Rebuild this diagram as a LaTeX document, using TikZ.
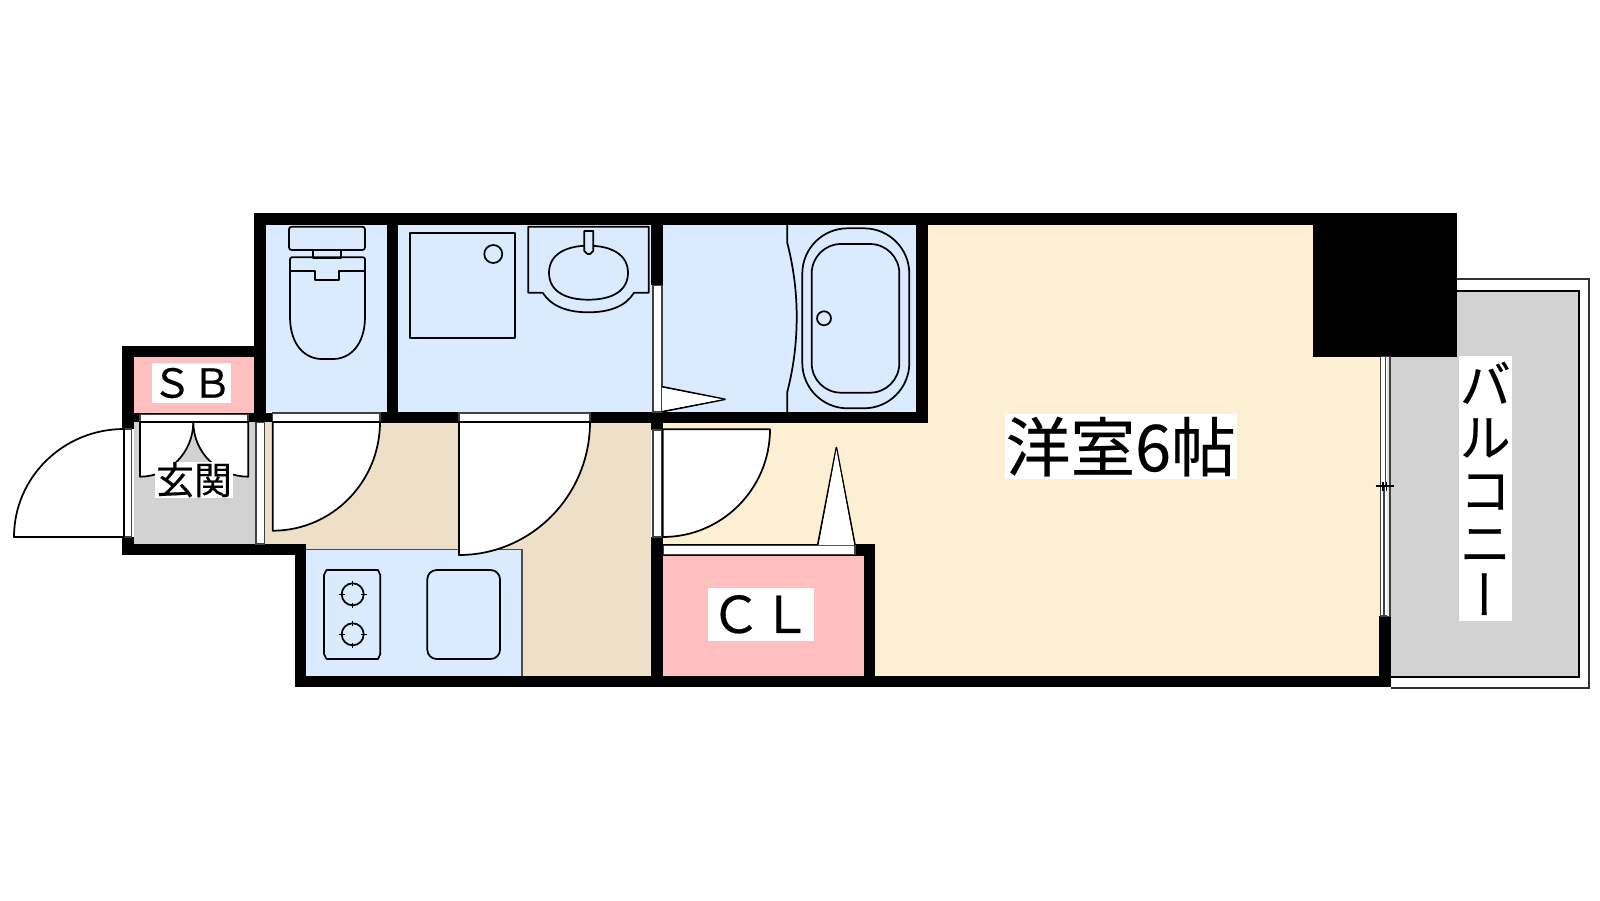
\documentclass[tikz,border=0pt]{standalone}
\usepackage{fontspec}
\setmainfont{Noto Sans CJK JP}[FakeBold=0.35,AutoFakeBold=0.35]
\newfontfamily\vertfont[RawFeature={+vert}]{Noto Sans CJK JP}
\definecolor{wetblue}{HTML}{DAEBFF}
\definecolor{storepink}{HTML}{FFBFBF}
\definecolor{hallbeige}{HTML}{EEDFC8}
\definecolor{roomcream}{HTML}{FDF0D2}
\definecolor{floorgray}{HTML}{D2D2D2}
\tikzset{
  wall/.style={fill=black,draw=none},
  fixture/.style={draw=black,line width=1.3pt,line join=round},
  doorleaf/.style={draw=black,fill=white,line width=1.3pt,line join=round},
  sash/.style={draw=black!75,fill=white,line width=1pt},
  thinframe/.style={draw=black!80,line width=1.3pt},
  tag/.style={fill=white,inner sep=0pt,align=center,text=black},
}
\begin{document}
\begin{tikzpicture}[x=0.75pt,y=-0.75pt]
\useasboundingbox (0,0) rectangle (1600,900);
% floors
\fill[roomcream] (663,423) rectangle (1380,676);
\fill[roomcream] (928,225) rectangle (1380,430);
\fill[hallbeige] (264,422) rectangle (651,549);
\fill[hallbeige] (522,540) rectangle (651,676);
\fill[floorgray] (134,412) rectangle (254,544);
\fill[floorgray] (254,422) rectangle (264,544);
\fill[storepink] (134,357) rectangle (254,413);
\fill[storepink] (663,555) rectangle (864,676);
\fill[wetblue] (266,225) rectangle (387,412);
\fill[wetblue] (398,225) rectangle (652,412);
\fill[wetblue] (663,225) rectangle (916,412);
\fill[wetblue] (306,549) rectangle (522,676);
\draw[draw=black!70,line width=1pt] (306,549.3) -- (522,549.3) -- (522,676);
% balcony
\draw[thinframe] (1457,279.3) -- (1589,279.3) -- (1589,687.7) -- (1391,687.7);
\fill[floorgray] (1391,290.7) rectangle (1579,676.7);
\draw[draw=black,line width=1.3pt] (1457,290.7) -- (1579,290.7) -- (1579,676.7) -- (1391,676.7);
% walls
\fill[wall] (254,213) rectangle (1457,225);
\fill[wall] (254,213) rectangle (266,422);
\fill[wall] (387,225) rectangle (398,412);
\fill[wall] (651,225) rectangle (663,285);
\fill[wall] (916,225) rectangle (928,423);
\fill[wall] (1313,213) rectangle (1457,356.7);
\fill[wall] (122,346) rectangle (266,357);
\fill[wall] (122,346) rectangle (134,429);
\fill[wall] (122,412.5) rectangle (272.7,422);
\fill[wall] (122,537) rectangle (134,555);
\fill[wall] (122,544) rectangle (306,555);
\fill[wall] (294.5,544) rectangle (306,687);
\fill[wall] (294.5,676) rectangle (1391,687);
\fill[wall] (380,412) rectangle (459,423);
\fill[wall] (590,412) rectangle (928,423);
\fill[wall] (651,412) rectangle (663,430);
\fill[wall] (651,537) rectangle (663,687);
\fill[wall] (663,544) rectangle (875,555.7);
\fill[wall] (864,544) rectangle (875,687);
\fill[wall] (1379,616) rectangle (1391,687);
% sliding and door strips
\draw[sash] (140,414.3) rectangle (248,421.7);
\draw[sash] (272.7,413) rectangle (380,421.7);
\draw[sash] (459,413) rectangle (590,421.7);
\draw[sash] (663.5,545.5) rectangle (855,554.5);
\draw[sash] (124,429) rectangle (131.7,537);
\draw[sash] (256,422.5) rectangle (264.3,544);
\draw[sash] (653,285.5) rectangle (662,412);
\draw[sash] (653,430) rectangle (662,537);
% balcony window
\draw[sash] (1380.3,356.7) rectangle (1390,616);
\draw[draw=black!75,line width=1pt] (1385.8,356.7) -- (1385.8,486);
\draw[draw=black!75,line width=1pt] (1384,486) -- (1384,616);
\fill[floorgray!60] (1386.5,357) rectangle (1389.3,616);
\draw[draw=black,line width=0.9pt] (1375.7,486) -- (1394.3,486);
\draw[draw=black,line width=0.9pt] (1383,482) -- (1383,491);
\draw[draw=black,line width=0.9pt] (1386.5,482) -- (1386.5,491);
% doors
\draw[doorleaf] (14,537) -- (124,537) -- (124,429) arc[start angle=90,end angle=180,x radius=110,y radius=-108] -- cycle;
\draw[doorleaf] (140,422) -- (140,476.7) arc[start angle=-90,end angle=0,x radius=53.3,y radius=-54.7] -- cycle;
\draw[doorleaf] (248.3,422) -- (248.3,476.7) arc[start angle=-90,end angle=-180,x radius=55,y radius=-54.7] -- cycle;
\draw[doorleaf] (272.7,422) -- (272.7,530.7) arc[start angle=-90,end angle=0,x radius=107.3,y radius=-108.7] -- cycle;
\draw[doorleaf] (459,422) -- (459,555) arc[start angle=-90,end angle=0,x radius=131,y radius=-133] -- cycle;
\draw[doorleaf] (662.7,429.3) -- (662.7,537) arc[start angle=-90,end angle=0,x radius=107.3,y radius=-107.7] -- cycle;
\draw[doorleaf] (817.7,545) -- (836.4,447.7) -- (855,545);
\fill[white] (819,544.5) -- (836.4,450) -- (854,544.5) -- cycle;
\draw[doorleaf] (662,386.7) -- (725,399.3) -- (662,411.7);
\fill[white] (662.5,388) -- (722,399.3) -- (662.5,410.5) -- cycle;
% toilet
\draw[fixture,rounded corners=2pt] (289,226.7) rectangle (365,250);
\draw[fixture] (313.3,250) rectangle (340.7,258.3);
\draw[fixture,rounded corners=1.5pt] (290,271) -- (290,257.3) -- (365,257.3) -- (365,271);
\draw[fixture] (289,271) -- (315.3,271) -- (315.3,280) -- (338.7,280) -- (338.7,271) -- (365,271);
\draw[fixture] (290,271) -- (290,316.7) .. controls (290,345) and (305,359) .. (322,359) -- (333,359) .. controls (350,359) and (365,345) .. (365,316.7) -- (365,271);
% shower tray
\draw[fixture] (410,233.3) rectangle (515,337.7);
\draw[fixture] (493.3,254) circle[radius=9];
% wash basin
\draw[fixture] (542.7,292.7) -- (528.3,292.7) -- (528.3,226.7) -- (648.7,226.7) -- (648.7,292.7) -- (634,292.7) .. controls (626,306) and (610,312.3) .. (588.3,312.3) .. controls (567,312.3) and (551,306) .. (542.7,292.7);
\draw[fixture] (549,272.7) .. controls (549,255) and (565,245.7) .. (588.3,245.7) .. controls (612,245.7) and (628,255) .. (628,272.7) .. controls (628,291) and (612,299.7) .. (588.3,299.7) .. controls (565,299.7) and (549,291) .. (549,272.7);
\draw[fixture,fill=wetblue] (584.3,231) -- (593.3,231) -- (593.3,251) -- (590,254) -- (587.5,254) -- (584.3,251) -- cycle;
% bath
\draw[fixture] (787.3,225) -- (787.3,243) .. controls (793,265) and (796.7,290) .. (796.7,316.7) .. controls (796.7,345) and (793,370) .. (787.3,391.7) -- (787.3,412);
\draw[fixture,rounded corners=34pt] (802.3,228.3) rectangle (909.3,408.3);
\draw[fixture,rounded corners=22pt] (811.7,244) rectangle (899.3,392.7);
\draw[fixture] (824,318.3) circle[radius=7];
% kitchen
\draw[fixture] (326.5,570) -- (378,570) -- (380.3,575) -- (380.3,654) -- (378,659) -- (326.5,659) -- (324,654) -- (324,575) -- cycle;
\draw[fixture] (352.7,594.3) circle[radius=11];
\draw[fixture,line width=1pt] (352.7,580.5) -- (352.7,586) (352.7,602.5) -- (352.7,608) (339,594.3) -- (344.5,594.3) (361,594.3) -- (366.5,594.3);
\draw[fixture] (352.7,634.3) circle[radius=11];
\draw[fixture,line width=1pt] (352.7,620.5) -- (352.7,626) (352.7,642.5) -- (352.7,648) (339,634.3) -- (344.5,634.3) (361,634.3) -- (366.5,634.3);
\draw[fixture,rounded corners=7pt] (427.3,570) rectangle (500,659);
% labels
\node[tag,text width=59.25pt,minimum height=30pt] (sb) at (191.5,383) {\fontsize{30}{30}\selectfont\bfseries ＳＢ};
\node[tag,text width=58.5pt,minimum height=27pt] (genkan) at (194,479.8) {\fontsize{28.5}{28.5}\selectfont\bfseries 玄関};
\node[tag,text width=79.5pt,minimum height=39.5pt] (cl) at (761,614.3) {\fontsize{38}{38}\selectfont\bfseries ＣＬ};
\node[tag,text width=173.7pt,minimum height=49pt] (room) at (1120.8,446.6) {\fontsize{48.5}{48.5}\selectfont\bfseries 洋室6帖};
\node[tag,text width=39.5pt,minimum height=198.7pt] (balcony) at (1485.3,488.5) {\fontsize{38}{39.7}\selectfont\bfseries バ\\ル\\コ\\ニ\\{\vertfont\mdseries\fontsize{40}{39.7}\selectfont ー}\\[7pt]};
\end{tikzpicture}
\end{document}
